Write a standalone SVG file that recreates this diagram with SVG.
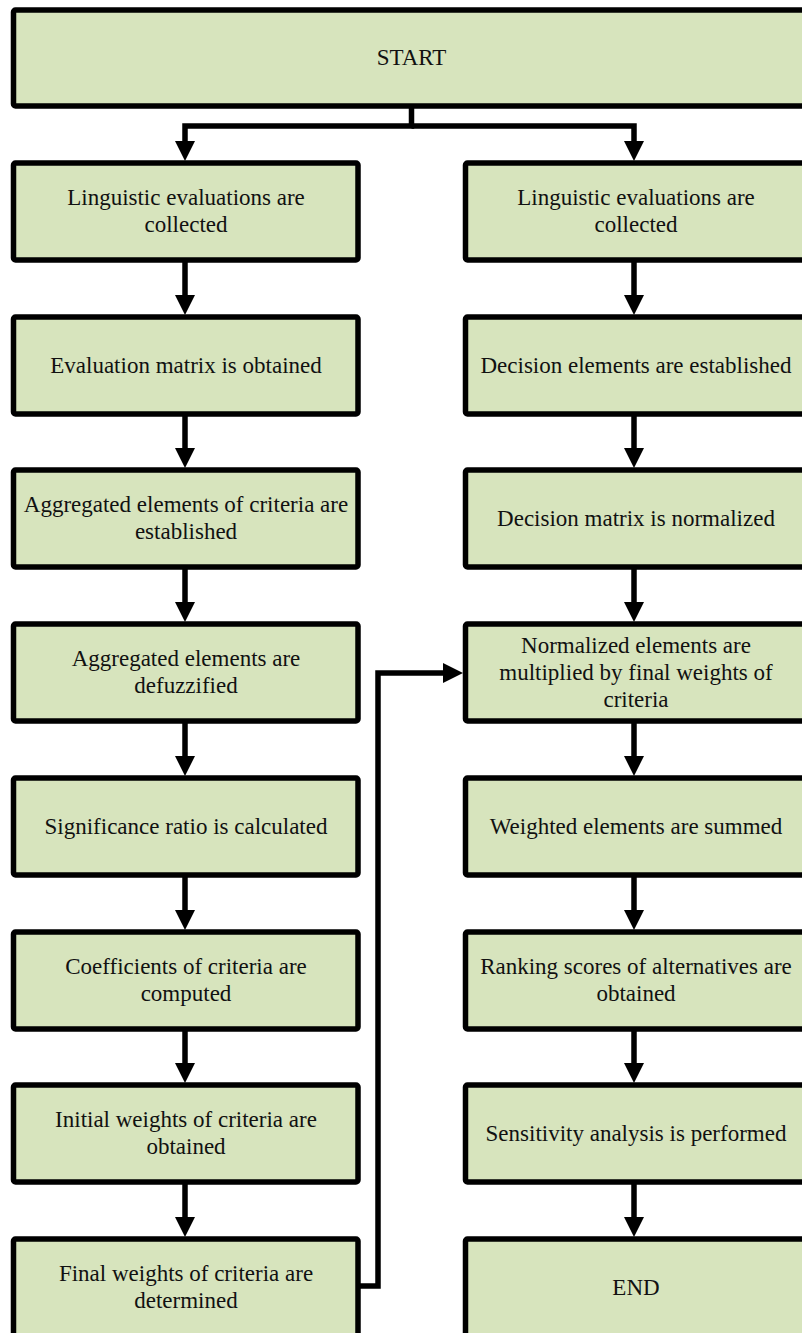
<svg xmlns="http://www.w3.org/2000/svg" width="802" height="1333" viewBox="0 0 802 1333">
<defs>
<style>
.box{fill:#d7e4bd;stroke:#000;stroke-width:5.5;stroke-linejoin:round}
.t{font-family:'Liberation Serif',Tinos,'Times New Roman','DejaVu Serif',serif;font-size:23px;fill:#111;text-anchor:middle}
.c{fill:none;stroke:#000;stroke-width:5.5;stroke-linejoin:miter}
</style>
<marker id="ah" viewBox="0 0 20 20" refX="0" refY="10" markerWidth="20" markerHeight="20" markerUnits="userSpaceOnUse" orient="auto">
<path d="M0,0 L20,10 L0,20 z" fill="#000"/>
</marker>
</defs>
<rect width="802" height="1333" fill="#fff"/>
<g id="connectors">
<path class="c" d="M411.5,106 V126 H185 V141" marker-end="url(#ah)"/>
<path class="c" d="M411.5,126 H634 V141" marker-end="url(#ah)"/>
<path class="c" d="M185,260 V295" marker-end="url(#ah)"/>
<path class="c" d="M185,414 V448" marker-end="url(#ah)"/>
<path class="c" d="M185,567 V602" marker-end="url(#ah)"/>
<path class="c" d="M185,721 V756" marker-end="url(#ah)"/>
<path class="c" d="M185,875 V910" marker-end="url(#ah)"/>
<path class="c" d="M185,1029 V1063" marker-end="url(#ah)"/>
<path class="c" d="M185,1182 V1217" marker-end="url(#ah)"/>
<path class="c" d="M634,260 V295" marker-end="url(#ah)"/>
<path class="c" d="M634,414 V448" marker-end="url(#ah)"/>
<path class="c" d="M634,567 V602" marker-end="url(#ah)"/>
<path class="c" d="M634,721 V756" marker-end="url(#ah)"/>
<path class="c" d="M634,875 V910" marker-end="url(#ah)"/>
<path class="c" d="M634,1029 V1063" marker-end="url(#ah)"/>
<path class="c" d="M634,1182 V1217" marker-end="url(#ah)"/>
<path class="c" d="M358,1286 H378 V673 H443" marker-end="url(#ah)"/>
</g>
<g font-family="Liberation Serif, serif">
<g id="start"><rect class="box" x="13.5" y="10" width="800" height="96" rx="2"/><text class="t" x="411.5" y="65">START</text></g>
<g id="L1"><rect class="box" x="13.5" y="163" width="344.5" height="97" rx="2"/><text class="t" x="186" y="205">Linguistic evaluations are</text><text class="t" x="186" y="232">collected</text></g>
<g id="L2"><rect class="box" x="13.5" y="317" width="344.5" height="97" rx="2"/><text class="t" x="186" y="372.5">Evaluation matrix is obtained</text></g>
<g id="L3"><rect class="box" x="13.5" y="470" width="344.5" height="97" rx="2"/><text class="t" x="186" y="512">Aggregated elements of criteria are</text><text class="t" x="186" y="539">established</text></g>
<g id="L4"><rect class="box" x="13.5" y="624" width="344.5" height="97" rx="2"/><text class="t" x="186" y="666">Aggregated elements are</text><text class="t" x="186" y="693">defuzzified</text></g>
<g id="L5"><rect class="box" x="13.5" y="778" width="344.5" height="97" rx="2"/><text class="t" x="186" y="833.5">Significance ratio is calculated</text></g>
<g id="L6"><rect class="box" x="13.5" y="932" width="344.5" height="97" rx="2"/><text class="t" x="186" y="974">Coefficients of criteria are</text><text class="t" x="186" y="1001">computed</text></g>
<g id="L7"><rect class="box" x="13.5" y="1085" width="344.5" height="97" rx="2"/><text class="t" x="186" y="1127">Initial weights of criteria are</text><text class="t" x="186" y="1154">obtained</text></g>
<g id="L8"><rect class="box" x="13.5" y="1239" width="344.5" height="97" rx="2"/><text class="t" x="186" y="1281">Final weights of criteria are</text><text class="t" x="186" y="1308">determined</text></g>
<g id="R1"><rect class="box" x="465.5" y="163" width="345" height="97" rx="2"/><text class="t" x="636" y="205">Linguistic evaluations are</text><text class="t" x="636" y="232">collected</text></g>
<g id="R2"><rect class="box" x="465.5" y="317" width="345" height="97" rx="2"/><text class="t" x="636" y="372.5">Decision elements are established</text></g>
<g id="R3"><rect class="box" x="465.5" y="470" width="345" height="97" rx="2"/><text class="t" x="636" y="525.5">Decision matrix is normalized</text></g>
<g id="R4"><rect class="box" x="465.5" y="624" width="345" height="97" rx="2"/><text class="t" x="636" y="652.5">Normalized elements are</text><text class="t" x="636" y="679.5">multiplied by final weights of</text><text class="t" x="636" y="706.5">criteria</text></g>
<g id="R5"><rect class="box" x="465.5" y="778" width="345" height="97" rx="2"/><text class="t" x="636" y="833.5">Weighted elements are summed</text></g>
<g id="R6"><rect class="box" x="465.5" y="932" width="345" height="97" rx="2"/><text class="t" x="636" y="974">Ranking scores of alternatives are</text><text class="t" x="636" y="1001">obtained</text></g>
<g id="R7"><rect class="box" x="465.5" y="1085" width="345" height="97" rx="2"/><text class="t" x="636" y="1140.5">Sensitivity analysis is performed</text></g>
<g id="R8"><rect class="box" x="465.5" y="1239" width="345" height="97" rx="2"/><text class="t" x="636" y="1294.5">END</text></g>
</g>
</svg>
